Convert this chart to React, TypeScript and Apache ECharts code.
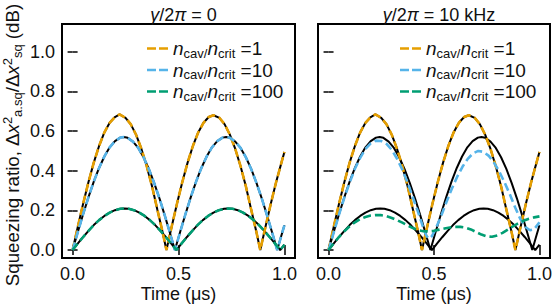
import React, { useEffect, useRef } from "react";
import * as echarts from "echarts";

const FONT = "'Liberation Sans', Arial, Helvetica, sans-serif";
const ORANGE = "#E69F00";
const BLUE = "#56B4E9";
const GREEN = "#009E73";

// Tick values
const X_TICKS = [0, 0.5, 1.0];
const Y_TICKS = [0, 0.2, 0.4, 0.6, 0.8, 1.0];

// n_cav/n_crit = 1 (identical in both panels)
const tN1 = [0, 0.025, 0.05, 0.075, 0.1, 0.125, 0.15, 0.175, 0.2, 0.222, 0.25, 0.275, 0.3, 0.325, 0.35, 0.375, 0.4, 0.425, 0.443, 0.468, 0.493, 0.518, 0.543, 0.568, 0.593, 0.618, 0.643, 0.665, 0.693, 0.718, 0.743, 0.768, 0.793, 0.818, 0.843, 0.868, 0.886, 0.911, 0.936, 0.961, 0.986, 1.0];
const vN1 = [0, 0.119, 0.235, 0.343, 0.441, 0.525, 0.593, 0.642, 0.671, 0.684, 0.667, 0.634, 0.581, 0.51, 0.423, 0.322, 0.205, 0.09, 0, 0.119, 0.235, 0.343, 0.441, 0.525, 0.593, 0.642, 0.671, 0.68, 0.667, 0.634, 0.581, 0.51, 0.423, 0.322, 0.205, 0.09, 0, 0.119, 0.235, 0.343, 0.441, 0.495];

// n_cav/n_crit = 10, gamma = 0
const tN10 = [0, 0.025, 0.05, 0.075, 0.1, 0.125, 0.15, 0.175, 0.2, 0.225, 0.242, 0.26, 0.285, 0.31, 0.335, 0.36, 0.385, 0.41, 0.435, 0.46, 0.483, 0.508, 0.533, 0.558, 0.583, 0.608, 0.633, 0.658, 0.683, 0.708, 0.725, 0.743, 0.768, 0.793, 0.818, 0.843, 0.868, 0.893, 0.918, 0.943, 0.966, 0.983, 1.0];
const vN10 = [0, 0.092, 0.182, 0.267, 0.345, 0.414, 0.472, 0.518, 0.549, 0.567, 0.57, 0.566, 0.547, 0.515, 0.468, 0.409, 0.339, 0.261, 0.175, 0.085, 0, 0.092, 0.182, 0.267, 0.345, 0.414, 0.472, 0.518, 0.549, 0.567, 0.57, 0.566, 0.547, 0.515, 0.468, 0.409, 0.339, 0.261, 0.175, 0.085, 0, 0.063, 0.125];

// n_cav/n_crit = 100, gamma = 0
const tN100 = [0, 0.025, 0.05, 0.075, 0.1, 0.125, 0.15, 0.175, 0.2, 0.225, 0.245, 0.265, 0.29, 0.315, 0.34, 0.365, 0.39, 0.415, 0.44, 0.465, 0.49, 0.515, 0.54, 0.565, 0.59, 0.615, 0.64, 0.665, 0.69, 0.715, 0.735, 0.755, 0.78, 0.805, 0.83, 0.855, 0.88, 0.905, 0.93, 0.955, 0.98, 1.0];
const vN100 = [0, 0.034, 0.066, 0.097, 0.126, 0.151, 0.172, 0.189, 0.201, 0.208, 0.21, 0.208, 0.201, 0.189, 0.172, 0.151, 0.126, 0.097, 0.066, 0.034, 0, 0.034, 0.066, 0.097, 0.126, 0.151, 0.172, 0.189, 0.201, 0.208, 0.21, 0.208, 0.201, 0.189, 0.172, 0.151, 0.126, 0.097, 0.066, 0.034, 0, 0.027];

// n_cav/n_crit = 10, gamma/2pi = 10 kHz
const tG10 = [0, 0.025, 0.05, 0.075, 0.1, 0.125, 0.15, 0.175, 0.2, 0.225, 0.25, 0.275, 0.3, 0.325, 0.35, 0.375, 0.4, 0.425, 0.45, 0.465, 0.478, 0.49, 0.505, 0.535, 0.56, 0.585, 0.61, 0.635, 0.66, 0.685, 0.71, 0.735, 0.76, 0.785, 0.81, 0.835, 0.86, 0.885, 0.91, 0.935, 0.955, 0.975, 1.0];
const vG10 = [0, 0.09, 0.18, 0.265, 0.34, 0.41, 0.465, 0.51, 0.538, 0.552, 0.55, 0.535, 0.505, 0.46, 0.405, 0.34, 0.265, 0.19, 0.11, 0.07, 0.058, 0.07, 0.1, 0.175, 0.245, 0.31, 0.37, 0.42, 0.46, 0.488, 0.5, 0.495, 0.475, 0.44, 0.395, 0.34, 0.28, 0.215, 0.155, 0.115, 0.1, 0.105, 0.14];

// n_cav/n_crit = 100, gamma/2pi = 10 kHz
const tG100 = [0, 0.025, 0.05, 0.075, 0.1, 0.125, 0.15, 0.175, 0.2, 0.225, 0.25, 0.275, 0.3, 0.325, 0.35, 0.375, 0.4, 0.425, 0.45, 0.475, 0.5, 0.525, 0.55, 0.575, 0.6, 0.625, 0.65, 0.675, 0.7, 0.725, 0.75, 0.775, 0.8, 0.825, 0.85, 0.875, 0.9, 0.925, 0.95, 0.975, 1.0];
const vG100 = [0, 0.035, 0.067, 0.095, 0.12, 0.14, 0.156, 0.167, 0.174, 0.177, 0.176, 0.171, 0.162, 0.151, 0.138, 0.124, 0.111, 0.101, 0.095, 0.094, 0.097, 0.103, 0.109, 0.114, 0.117, 0.117, 0.113, 0.104, 0.091, 0.078, 0.069, 0.067, 0.074, 0.087, 0.103, 0.12, 0.135, 0.148, 0.158, 0.165, 0.17];

const LEGEND_NAMES = ["n1", "n10", "n100"];
const LEGEND_VALUES: Record<string, string> = { n1: "1", n10: "10", n100: "100" };
const TITLES = ["0", "10 kHz"];

const pairs = (t: number[], v: number[]) => t.map((x, i) => [x, v[i]]);

const GRID_TOP = 24;
const GRID_H = 234;
const GRIDS = [
  { left: 62, width: 233 },
  { left: 318, width: 232 },
];

export default function App() {
  const ref = useRef<HTMLDivElement>(null);

  useEffect(() => {
    if (!ref.current) return;
    const chart = echarts.init(ref.current, undefined, { renderer: "svg" });

    const tickLabel = {
      fontSize: 18,
      lineHeight: 16,
      color: "#111",
      fontFamily: FONT,
    };

    const xAxis: any[] = [];
    const yAxis: any[] = [];
    GRIDS.forEach((_, gi) => {
      ["bottom", "top"].forEach((pos) => {
        const main = pos === "bottom";
        xAxis.push({
          type: "value",
          gridIndex: gi,
          position: pos,
          min: -0.05,
          max: 1.05,
          axisLine: { show: false },
          axisTick: {
            show: true,
            inside: true,
            length: 5,
            lineStyle: { color: "#000", width: 1.5 },
            customValues: X_TICKS,
          },
          axisLabel: {
            show: main,
            customValues: X_TICKS,
            formatter: (v: number) => v.toFixed(1),
            margin: 8,
            ...tickLabel,
          },
          splitLine: { show: false },
          name: main ? "Time (μs)" : "",
          nameLocation: "middle",
          nameGap: 27,
          nameMoveOverlap: false,
          nameTextStyle: { fontSize: 18, lineHeight: 18, color: "#111", fontFamily: FONT },
        });
      });
      ["left", "right"].forEach((pos) => {
        const main = pos === "left" && gi === 0;
        yAxis.push({
          type: "value",
          gridIndex: gi,
          position: pos,
          min: -0.04,
          max: 1.14,
          axisLine: { show: false },
          axisTick: {
            show: true,
            inside: true,
            length: 5,
            lineStyle: { color: "#000", width: 1.5 },
            customValues: Y_TICKS,
          },
          axisLabel: {
            show: main,
            customValues: Y_TICKS,
            formatter: (v: number) => v.toFixed(1),
            margin: 7,
            ...tickLabel,
          },
          splitLine: { show: false },
          name: main
            ? "{t|Squeezing ratio, Δ}{i|x}{sup|2}{sub|a.sq}{t|/Δ}{i|x}{sup|2}{sub|sq}{t| (dB)}"
            : "",
          nameLocation: "middle",
          nameRotate: 90,
          nameGap: 38,
          nameMoveOverlap: false,
          nameTextStyle: {
            fontFamily: FONT,
            color: "#111",
            padding: [0, 8, 0, 0],
            rich: {
              t: { fontSize: 18.7, lineHeight: 23, fontFamily: FONT, color: "#111" },
              i: { fontSize: 18.7, lineHeight: 23, fontStyle: "italic", fontFamily: FONT, color: "#111" },
              sup: { fontSize: 13, lineHeight: 13, verticalAlign: "top", fontFamily: FONT, color: "#111" },
              sub: { fontSize: 13, lineHeight: 13, verticalAlign: "bottom", fontFamily: FONT, color: "#111" },
            },
          },
        });
      });
    });

    const line = (
      name: string,
      data: number[][],
      color: string,
      panel: number,
      dashed: boolean
    ) => ({
      type: "line",
      name,
      data,
      xAxisIndex: panel * 2,
      yAxisIndex: panel * 2,
      symbol: "none",
      showSymbol: false,
      silent: true,
      z: dashed ? 3 : 2,
      lineStyle: { color, width: dashed ? 2.6 : 2, type: dashed ? [8, 4] : "solid" },
      itemStyle: { color },
    });

    const d1 = pairs(tN1, vN1);
    const d10 = pairs(tN10, vN10);
    const d100 = pairs(tN100, vN100);

    const series = [
      // left panel: exact (black) under the colored dashed curves
      line("k1L", d1, "#000", 0, false),
      line("k10L", d10, "#000", 0, false),
      line("k100L", d100, "#000", 0, false),
      line("n1", d1, ORANGE, 0, true),
      line("n10", d10, BLUE, 0, true),
      line("n100", d100, GREEN, 0, true),
      // right panel
      line("k1R", d1, "#000", 1, false),
      line("k10R", d10, "#000", 1, false),
      line("k100R", d100, "#000", 1, false),
      line("n1", d1, ORANGE, 1, true),
      line("n10", pairs(tG10, vG10), BLUE, 1, true),
      line("n100", pairs(tG100, vG100), GREEN, 1, true),
    ];

    const legendRich = {
      n: { fontSize: 19, lineHeight: 22, fontStyle: "italic", fontFamily: FONT, color: "#111" },
      s: { fontSize: 13, lineHeight: 13, verticalAlign: "bottom", fontFamily: FONT, color: "#111" },
      t: { fontSize: 19, lineHeight: 22, fontFamily: FONT, color: "#111" },
    };

    const legend = [142, 395].map((left) => ({
      orient: "vertical",
      left,
      top: 34,
      itemWidth: 21,
      itemHeight: 2.6,
      itemGap: 1,
      icon: "path://M0 0H9V2.6H0Z M12 0H21V2.6H12Z",
      selectedMode: false,
      data: LEGEND_NAMES,
      formatter: (name: string) =>
        `{n|n}{s|cav/}{n|n}{s|crit}{t| =${LEGEND_VALUES[name]}}`,
      textStyle: { rich: legendRich, fontFamily: FONT },
    }));

    const titleRich = {
      i: { fontSize: 18, fontStyle: "italic", fontWeight: "normal", fontFamily: FONT, color: "#111" },
      t: { fontSize: 18, fontWeight: "normal", fontFamily: FONT, color: "#111" },
    };
    const title = GRIDS.map((g, i) => ({
      text: `{i|γ}{t|/2}{i|π}{t| = ${TITLES[i]}}`,
      left: g.left + g.width / 2,
      top: 1,
      textAlign: "center",
      textStyle: { rich: titleRich, fontFamily: FONT, fontWeight: "normal" },
    }));

    chart.setOption({
      animation: false,
      backgroundColor: "#fff",
      title,
      legend,
      grid: GRIDS.map((g) => ({
        left: g.left,
        top: GRID_TOP,
        width: g.width,
        height: GRID_H,
        show: true,
        borderColor: "#000",
        borderWidth: 2,
        backgroundColor: "transparent",
        containLabel: false,
        outerBoundsMode: "none",
      })),
      xAxis,
      yAxis,
      series,
    });

    return () => chart.dispose();
  }, []);

  return (
    <div
      ref={ref}
      style={{ position: "fixed", left: 0, top: 0, width: 556, height: 305 }}
    />
  );
}
